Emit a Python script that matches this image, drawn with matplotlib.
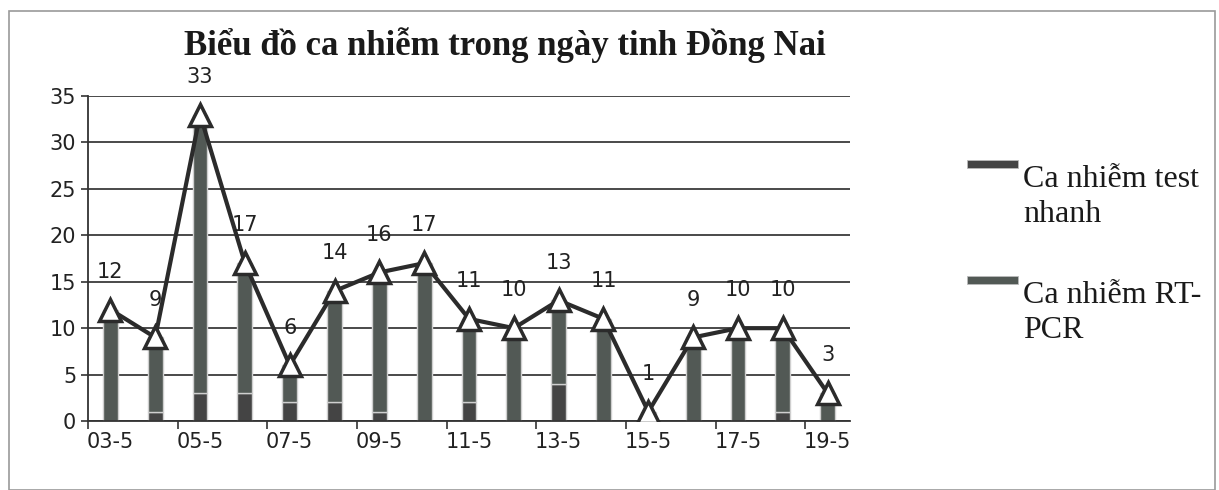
import numpy as np
import matplotlib.pyplot as plt
from matplotlib.patches import Rectangle

# Data
days = ['03-5', '04-5', '05-5', '06-5', '07-5', '08-5', '09-5', '10-5', '11-5',
        '12-5', '13-5', '14-5', '15-5', '16-5', '17-5', '18-5', '19-5']
totals = [12, 9, 33, 17, 6, 14, 16, 17, 11, 10, 13, 11, 1, 9, 10, 10, 3]
test_nhanh = [0, 1, 3, 3, 2, 2, 1, 0, 2, 0, 4, 0, 0, 0, 0, 1, 0]
rt_pcr = [t - n for t, n in zip(totals, test_nhanh)]
yticks = [0, 5, 10, 15, 20, 25, 30, 35]
legend_lines = [['Ca nhiễm test', 'nhanh'], ['Ca nhiễm RT-', 'PCR']]
colors = ['#444444', '#525955']

W, H = 1219, 490
fig = plt.figure(figsize=(W / 100, H / 100), dpi=100)
fig.patch.set_facecolor('white')
fig.add_artist(Rectangle((0.007, 0.0), 0.99, 0.978, transform=fig.transFigure,
                         fill=False, edgecolor='#9a9a9a', linewidth=1.2))

ax = fig.add_axes([0.0722, 0.1408, 0.6251, 0.6632])
x = np.arange(len(days))

ax.bar(x, test_nhanh, width=0.33, color=colors[0], edgecolor='#cfcfcf',
       linewidth=1.0, zorder=2)
ax.bar(x, rt_pcr, bottom=test_nhanh, width=0.33, color=colors[1], edgecolor='#cfcfcf',
       linewidth=1.0, zorder=2)

ax.plot(x, totals, color='#2b2b2b', linewidth=3, marker='^', markersize=16,
        markerfacecolor='white', markeredgecolor='#2b2b2b', markeredgewidth=2.5, zorder=3)
for xi, t in zip(x, totals):
    ax.annotate(str(t), (xi, t), xytext=(0, 20), textcoords='offset points',
                ha='center', va='bottom', fontsize=15, color='#222222', zorder=4)

ax.set_xlim(-0.5, len(days) - 0.5)
ax.set_ylim(0, 35)
ax.set_yticks(yticks)
ax.set_xticks(x[::2])
ax.set_xticklabels(days[::2])
ax.set_xticks(np.arange(-0.5, len(days), 2), minor=True)
ax.tick_params(axis='x', which='major', length=0, labelsize=15, pad=8, colors='#222222')
ax.tick_params(axis='x', which='minor', length=6, width=1.2, color='#333333')
ax.tick_params(axis='y', length=5, width=1.2, labelsize=15, color='#333333', labelcolor='#222222')
ax.grid(axis='y', color='#3a3a3a', linewidth=1.3, zorder=0)
ax.set_axisbelow(True)
for s in ['top', 'right']:
    ax.spines[s].set_visible(False)
for s in ['left', 'bottom']:
    ax.spines[s].set_color('#333333')
    ax.spines[s].set_linewidth(1.3)

fig.text(0.414, 0.908, 'Biểu đồ ca nhiễm trong ngày tinh Đồng Nai', ha='center', va='center',
         fontsize=25, fontweight='bold', family='Liberation Serif', color='#1a1a1a')

# legend drawn by hand so the swatch sits on the first text line, as in the original
entry_baselines = [187, 303]
for lines, col, base in zip(legend_lines, colors, entry_baselines):
    fig.add_artist(Rectangle((967 / W, 1 - (base - 19) / H), 51 / W, 8 / H,
                             transform=fig.transFigure, facecolor=col,
                             edgecolor='#bbbbbb', linewidth=0.6))
    for i, line in enumerate(lines):
        fig.text(1023 / W, 1 - (base + i * 35) / H, line, ha='left', va='baseline',
                 fontsize=23, family='Liberation Serif', color='#1a1a1a')

fig.savefig('out.png', dpi=100)
